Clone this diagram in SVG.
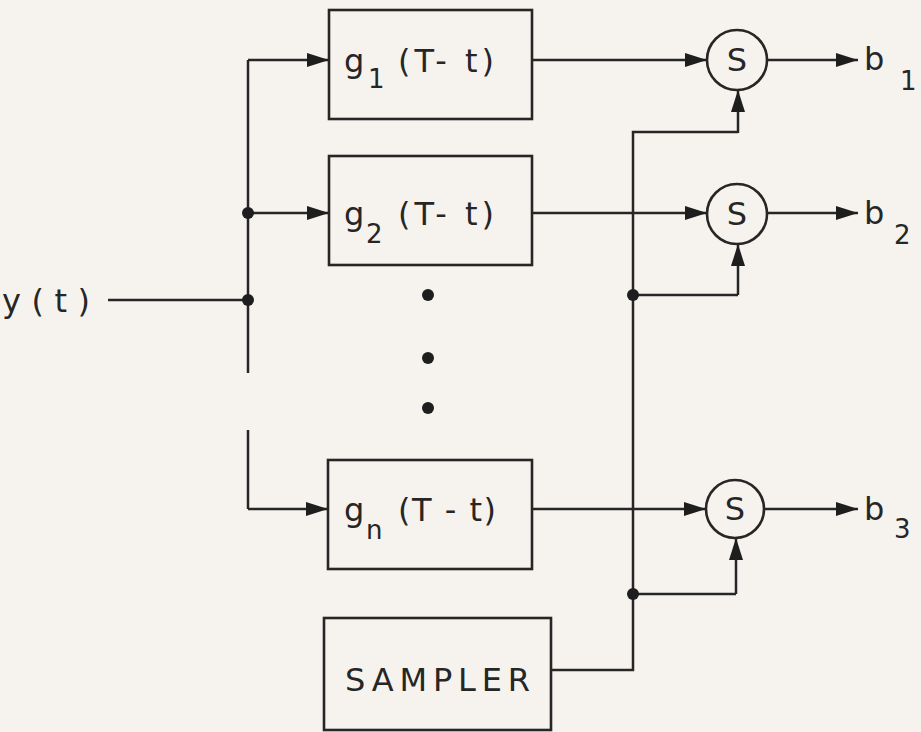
<svg xmlns="http://www.w3.org/2000/svg" width="921" height="732" viewBox="0 0 921 732">
<defs>
<marker id="ah" viewBox="0 0 22 14" refX="22" refY="7" markerWidth="22" markerHeight="14" markerUnits="userSpaceOnUse" orient="auto">
<path d="M0,0 L22,7 L0,14 Z" fill="#1e1e1e"/>
</marker>
<style>
.bx{fill:none;stroke:#262626;stroke-width:2.6}
.ln{fill:none;stroke:#262626;stroke-width:2.5}
.ar{fill:none;stroke:#262626;stroke-width:2.5;marker-end:url(#ah)}
.dt{fill:#1e1e1e}
.t{font-family:"DejaVu Sans","Liberation Sans",sans-serif;fill:#262626;font-size:32px}
.s{font-size:26px}
</style>
</defs>
<rect width="921" height="732" fill="#f6f3ee"/>
<g id="connectors">
<path class="ln" d="M108,300 H248"/>
<path class="ln" d="M248,373 V60"/>
<path class="ar" d="M248,60 H329"/>
<path class="ar" d="M248,213 H329"/>
<path class="ln" d="M248,430 V509"/>
<path class="ar" d="M248,509 H328"/>
<path class="ar" d="M532,60 H707"/>
<path class="ar" d="M532,213 H707"/>
<path class="ar" d="M532,509 H706"/>
<path class="ar" d="M767,60 H858"/>
<path class="ar" d="M767,213 H858"/>
<path class="ar" d="M765,509 H858"/>
<path class="ln" d="M551,670 H633 V132 H738"/>
<path class="ar" d="M738,133 V90"/>
<path class="ln" d="M633,295 H738"/>
<path class="ar" d="M738,295 V244"/>
<path class="ln" d="M633,594 H736"/>
<path class="ar" d="M736,594 V538"/>
<circle class="dt" cx="248" cy="213" r="6"/>
<circle class="dt" cx="248" cy="300" r="6"/>
<circle class="dt" cx="633" cy="295" r="6"/>
<circle class="dt" cx="633" cy="594" r="6"/>
</g>
<g id="input"><text class="t" x="2" y="312" textLength="88" lengthAdjust="spacing">y ( t )</text></g>
<g id="g1"><rect class="bx" x="329" y="10" width="203" height="109"/>
<text class="t" x="344" y="72">g</text><text class="t s" x="368" y="88">1</text>
<text class="t" x="398" y="72" textLength="96" lengthAdjust="spacing">(T- t)</text></g>
<g id="g2"><rect class="bx" x="329" y="156" width="203" height="109"/>
<text class="t" x="344" y="225">g</text><text class="t s" x="366" y="243">2</text>
<text class="t" x="398" y="225" textLength="96" lengthAdjust="spacing">(T- t)</text></g>
<g id="gn"><rect class="bx" x="328" y="460" width="204" height="109"/>
<text class="t" x="344" y="521">g</text><text class="t s" x="366" y="539">n</text>
<text class="t" x="398" y="521" textLength="98" lengthAdjust="spacing">(T - t)</text></g>
<g id="ellipsis">
<circle class="dt" cx="428" cy="295" r="6"/>
<circle class="dt" cx="428" cy="358" r="6"/>
<circle class="dt" cx="428" cy="408" r="6"/>
</g>
<g id="sampler"><rect class="bx" x="324" y="618" width="227" height="112"/>
<text class="t" x="345" y="691" textLength="185" lengthAdjust="spacing">SAMPLER</text></g>
<g id="s1"><circle class="bx" cx="737" cy="60" r="30"/><text class="t" x="737" y="71" text-anchor="middle">S</text></g>
<g id="s2"><circle class="bx" cx="737" cy="214" r="30"/><text class="t" x="737" y="225" text-anchor="middle">S</text></g>
<g id="s3"><circle class="bx" cx="735" cy="509" r="29"/><text class="t" x="735" y="520" text-anchor="middle">S</text></g>
<g id="b1"><text class="t" x="864" y="70">b</text><text class="t s" x="900" y="90">1</text></g>
<g id="b2"><text class="t" x="864" y="224">b</text><text class="t s" x="894" y="244">2</text></g>
<g id="b3"><text class="t" x="864" y="520">b</text><text class="t s" x="894" y="538">3</text></g>
</svg>
